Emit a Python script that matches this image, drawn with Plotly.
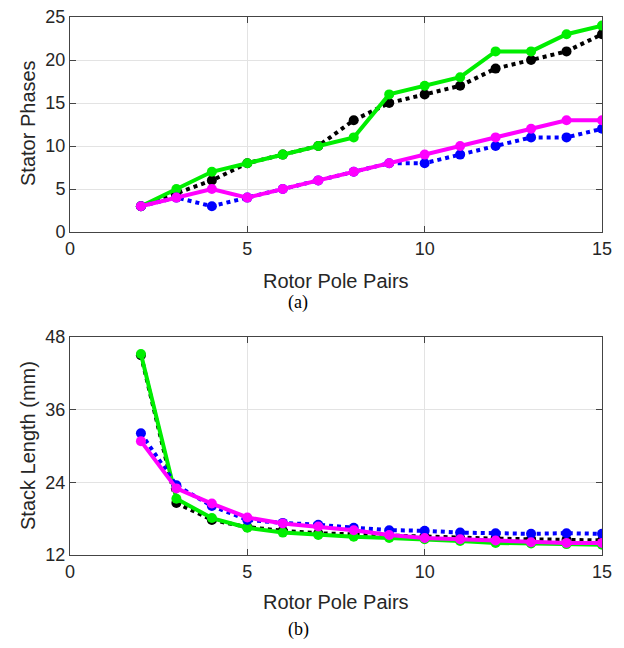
import plotly.graph_objects as go

pole_pairs = list(range(2, 16))

# (a) Stator phases
phases_black = [3, 4.5, 6, 8, 9, 10, 13, 15, 16, 17, 19, 20, 21, 23]
phases_green = [3, 5, 7, 8, 9, 10, 11, 16, 17, 18, 21, 21, 23, 24]
phases_blue = [3, 4, 3, 4, 5, 6, 7, 8, 8, 9, 10, 11, 11, 12]
phases_magenta = [3, 4, 5, 4, 5, 6, 7, 8, 9, 10, 11, 12, 13, 13]

# (b) Stack length (mm)
len_black = [45.0, 20.6, 17.8, 16.6, 16.0, 15.6, 15.4, 15.2, 15.0, 14.8, 14.7, 14.6, 14.5, 14.4]
len_green = [45.2, 21.3, 18.1, 16.5, 15.7, 15.3, 15.0, 14.8, 14.6, 14.3, 14.0, 13.9, 13.8, 13.7]
len_blue = [32.1, 23.5, 20.1, 17.8, 17.3, 17.0, 16.5, 16.1, 16.0, 15.7, 15.6, 15.5, 15.6, 15.5]
len_magenta = [30.8, 23.0, 20.5, 18.2, 17.2, 16.7, 16.1, 15.3, 14.8, 14.6, 14.4, 14.1, 14.0, 14.0]

x_ticks = [0, 5, 10, 15]
phase_ticks = [0, 5, 10, 15, 20, 25]
length_ticks = [12, 24, 36, 48]

styles = [
    ("black", "dot"),
    ("#00ee00", "solid"),
    ("blue", "dot"),
    ("#ff00ff", "solid"),
]

fig = go.Figure()

top_series = [phases_black, phases_green, phases_blue, phases_magenta]
bot_series = [len_black, len_green, len_blue, len_magenta]

for (color, dash), ys in zip(styles, top_series):
    fig.add_trace(go.Scatter(x=pole_pairs, y=ys, mode="lines+markers",
                             line=dict(color=color, width=4, dash=dash),
                             marker=dict(color=color, size=10),
                             xaxis="x", yaxis="y", showlegend=False))
for (color, dash), ys in zip(styles, bot_series):
    fig.add_trace(go.Scatter(x=pole_pairs, y=ys, mode="lines+markers",
                             line=dict(color=color, width=4, dash=dash),
                             marker=dict(color=color, size=10),
                             xaxis="x2", yaxis="y2", showlegend=False))

tick_font = dict(family="Liberation Sans, Arial, sans-serif", size=18, color="#262626")
axis_common = dict(showline=True, linecolor="#444444", linewidth=1, mirror="ticks",
                   ticks="inside", ticklen=6, tickcolor="#444444",
                   showgrid=True, gridcolor="#e3e3e3", gridwidth=1,
                   zeroline=False, tickfont=tick_font, automargin=False,
                   ticklabeloverflow="allow")

# page body has an 8px margin; figure is sized to fit the window
W, H, OFF = 608, 632, 8


def px(s):
    return (s - OFF) / W


def py(s):
    return 1 - (s - OFF) / H


xd = [px(70), px(602)]
fig.update_layout(
    width=W, height=H,
    margin=dict(l=0, r=0, t=0, b=0),
    paper_bgcolor="white", plot_bgcolor="white",
    xaxis=dict(domain=xd, range=[0, 15], tickvals=x_ticks, anchor="y", **axis_common),
    yaxis=dict(domain=[py(232), py(17)], range=[0, 25], tickvals=phase_ticks,
               anchor="x", **axis_common),
    xaxis2=dict(domain=xd, range=[0, 15], tickvals=x_ticks, anchor="y2", **axis_common),
    yaxis2=dict(domain=[py(555), py(337)], range=[12, 48], tickvals=length_ticks,
                anchor="x2", **axis_common),
)

title_font = dict(family="Liberation Sans, Arial, sans-serif", size=20, color="#262626")
cap_font = dict(family="Liberation Serif, Times New Roman, serif", size=18, color="black")
ann = [
    dict(text="Rotor Pole Pairs", x=px(336), y=py(281), font=title_font),
    dict(text="Rotor Pole Pairs", x=px(336), y=py(602), font=title_font),
    dict(text="Stator Phases", x=px(28), y=py(123), font=title_font, textangle=-90),
    dict(text="Stack Length (mm)", x=px(28), y=py(446), font=title_font, textangle=-90),
    dict(text="(a)", x=px(298), y=py(302), font=cap_font),
    dict(text="(b)", x=px(298), y=py(629), font=cap_font),
]
for a in ann:
    fig.add_annotation(xref="paper", yref="paper", showarrow=False,
                       xanchor="center", yanchor="middle", **a)

fig.write_html("out.html")
